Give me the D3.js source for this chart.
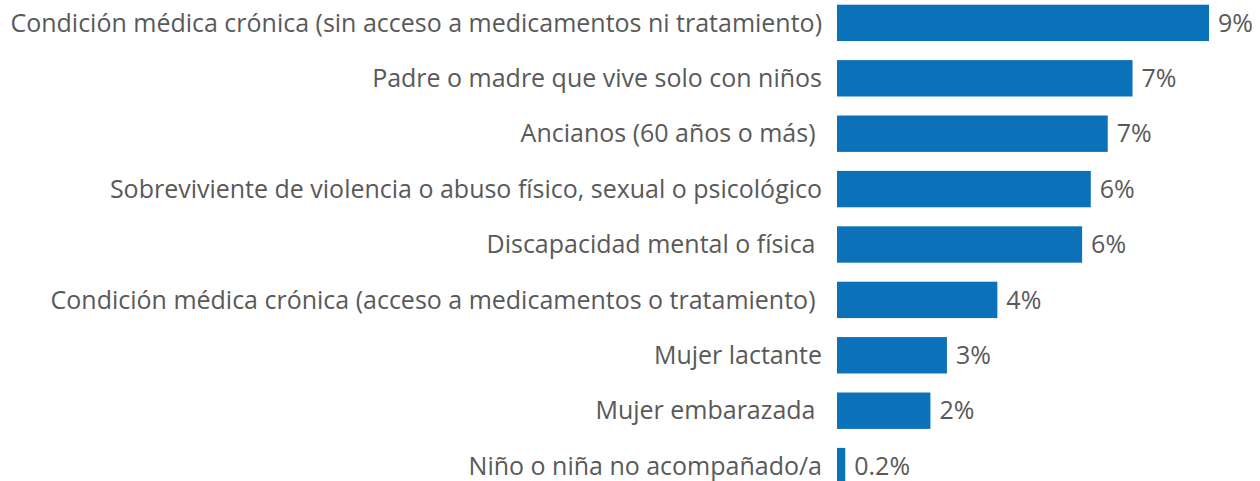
<!DOCTYPE html>
<html>
<head>
<meta charset="utf-8">
<script src="https://cdn.jsdelivr.net/npm/d3@7"></script>
<style>
  html, body { margin: 0; padding: 0; background: #fff; overflow: hidden; }
  text { white-space: pre; }
</style>
</head>
<body>
<svg id="chart" width="1260" height="481"></svg>
<script>
(function () {
    'use strict';

    var categories = [
        'Condición médica crónica (sin acceso a medicamentos ni tratamiento)',
        'Padre o madre que vive solo con niños',
        'Ancianos (60 años o más) ',
        'Sobreviviente de violencia o abuso físico, sexual o psicológico',
        'Discapacidad mental o física ',
        'Condición médica crónica (acceso a medicamentos o tratamiento) ',
        'Mujer lactante',
        'Mujer embarazada ',
        'Niño o niña no acompañado/a'
    ];
    var values = [9.0, 7.15, 6.55, 6.14, 5.93, 3.88, 2.66, 2.26, 0.2];
    var valueLabels = ['9%', '7%', '7%', '6%', '6%', '4%', '3%', '2%', '0.2%'];

    var width = 1260, height = 481;
    var barLeft = 837, barRight = 1209;
    var fontFamily = '"Open Sans", "Liberation Sans", sans-serif';
    var textColor = '#595959';

    var svg = d3.select('#chart');

    var x = d3.scaleLinear()
        .domain([0, d3.max(values)])
        .range([barLeft, barRight]);

    var y = d3.scaleBand()
        .domain(categories)
        .range([4.7, 484.3])
        .paddingInner(0.343)
        .paddingOuter(0)
        .align(0);

    // fit the longest label into the room left of the bars
    var probe = svg.append('text')
        .style('font-family', fontFamily)
        .style('font-size', '22px')
        .text(categories[0]);
    var fontSize = 22 * 812 / probe.node().getComputedTextLength();
    probe.remove();

    svg.selectAll('rect.bar')
        .data(values)
        .enter().append('rect')
        .attr('class', 'bar')
        .attr('x', x(0))
        .attr('y', function (d, i) { return y(categories[i]); })
        .attr('width', function (d) { return x(d) - x(0); })
        .attr('height', y.bandwidth())
        .style('fill', '#0b72b9');

    svg.selectAll('text.cat')
        .data(categories)
        .enter().append('text')
        .attr('class', 'cat')
        .attr('x', barLeft - 15)
        .attr('y', function (d) { return y(d) + y.bandwidth() / 2; })
        .attr('dy', '0.35em')
        .attr('text-anchor', 'end')
        .style('font-family', fontFamily)
        .style('font-size', fontSize + 'px')
        .style('fill', textColor)
        .text(function (d) { return d; });

    svg.selectAll('text.val')
        .data(values)
        .enter().append('text')
        .attr('class', 'val')
        .attr('x', function (d) { return x(d) + 9; })
        .attr('y', function (d, i) { return y(categories[i]) + y.bandwidth() / 2; })
        .attr('dy', '0.35em')
        .style('font-family', fontFamily)
        .style('font-size', fontSize + 'px')
        .style('fill', textColor)
        .text(function (d, i) { return valueLabels[i]; });
}());
</script>
</body>
</html>
